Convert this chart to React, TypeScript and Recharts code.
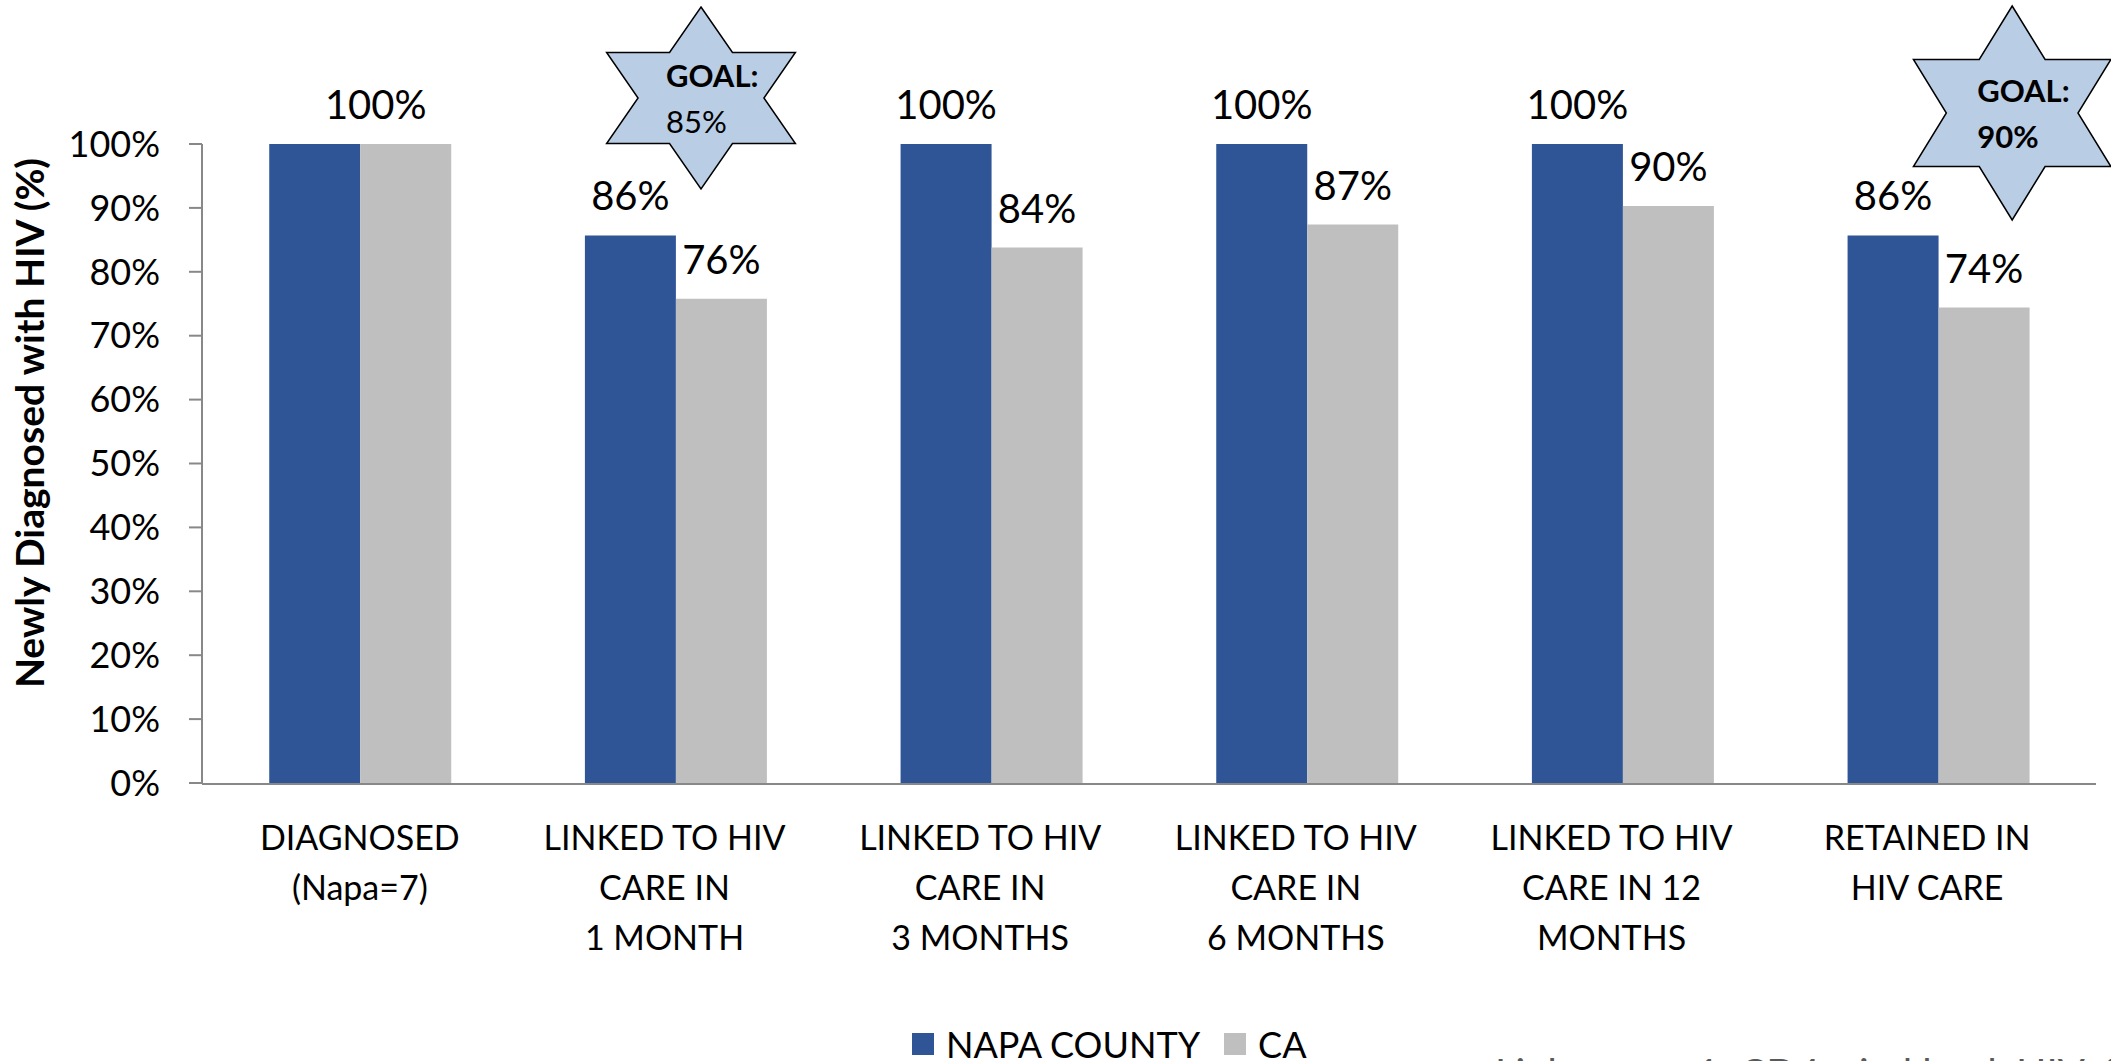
import React from 'react';
import { BarChart, Bar, XAxis, YAxis, Legend, LabelList, ReferenceDot, Customized } from 'recharts';

const categories = ['DIAGNOSED', 'LINKED_1M', 'LINKED_3M', 'LINKED_6M', 'LINKED_12M', 'RETAINED'];
const categoryLabels: string[][] = [
  ['DIAGNOSED', '(Napa=7)'],
  ['LINKED TO HIV', 'CARE IN', '1 MONTH'],
  ['LINKED TO HIV', 'CARE IN', '3 MONTHS'],
  ['LINKED TO HIV', 'CARE IN', '6 MONTHS'],
  ['LINKED TO HIV', 'CARE IN 12', 'MONTHS'],
  ['RETAINED IN', 'HIV CARE'],
];
const napaCounty = [100, 85.7, 100, 100, 100, 85.7];
const california = [100, 75.8, 83.8, 87.4, 90.3, 74.4];
const yTicks = [0, 10, 20, 30, 40, 50, 60, 70, 80, 90, 100];
const boundaryTicks = [0, 1, 2, 3, 4, 5, 6];
const seriesNames = ['NAPA COUNTY', 'CA'];
const goalCategories = ['LINKED_1M', 'RETAINED'];
const goalValues = [85, 90];
const goalBold = [false, true];

const data = categories.map((c, i) => ({ name: c, napa: napaCounty[i], ca: california[i] }));

const FONT = 'Lato, "Open Sans", sans-serif';
const BLUE = '#2F5597';
const GRAY = '#BFBFBF';
const AXIS = '#888888';

const CategoryTick = (props: any) => {
  const { x, y, payload } = props;
  const idx = categories.indexOf(payload.value);
  const lines = categoryLabels[idx] || [];
  const cx = idx > 0 ? x - 11 : x;
  return (
    <text x={cx} y={y} textAnchor="middle" fontFamily={FONT} fontSize={34} fill="#000">
      {lines.map((l, i) => (
        <tspan key={i} x={cx} y={y + 67 + i * 50}>{l}</tspan>
      ))}
    </text>
  );
};

const makeLabel = (series: 'napa' | 'ca') => (props: any) => {
  const { x, y, width, value, index } = props;
  if (series === 'napa' && index === 0) return null;
  let cx = Number(x) + Number(width) / 2;
  if (series === 'ca' && index === 0) cx -= 30;
  return (
    <text x={cx} y={Number(y) - 25} textAnchor="middle" fontFamily={FONT} fontSize={40} fill="#000">
      {Math.round(Number(value))}%
    </text>
  );
};

const starShape = (rx: number, ry: number, dx: number, label: number, bold: boolean) => (props: any) => {
  const cx = props.cx + dx;
  const cy = props.cy;
  const pts: string[] = [];
  for (let k = 0; k < 12; k++) {
    const th = (k * 30 * Math.PI) / 180;
    const f = k % 2 === 0 ? 1 : 1 / Math.sqrt(3);
    pts.push(`${cx + rx * f * Math.sin(th)},${cy - ry * f * Math.cos(th)}`);
  }
  return (
    <g>
      <polygon points={pts.join(' ')} fill="#B9CDE5" stroke="#000" strokeWidth={1.5} />
      <text x={cx - 35} y={cy - 11} fontFamily={FONT} fontSize={31} fontWeight="bold" fill="#000">GOAL:</text>
      <text x={cx - 35} y={cy + 35} fontFamily={FONT} fontSize={31} fontWeight={bold ? 'bold' : 'normal'} fill="#000">{label}%</text>
    </g>
  );
};

const LegendContent = () => (
  <div style={{ display: 'flex', alignItems: 'center', fontFamily: FONT, fontSize: 36, color: '#000', lineHeight: '40px', whiteSpace: 'nowrap' }}>
    <span style={{ display: 'inline-block', width: 22, height: 22, background: BLUE, marginRight: 12 }} />
    <span style={{ marginRight: 24 }}>{seriesNames[0]}</span>
    <span style={{ display: 'inline-block', width: 22, height: 22, background: GRAY, marginRight: 12 }} />
    <span>{seriesNames[1]}</span>
  </div>
);

const Extras = () => (
  <g>
    <text
      x={44}
      y={423}
      transform="rotate(-90 44 423)"
      textAnchor="middle"
      fontFamily={FONT}
      fontSize={39}
      fontWeight="bold"
      fill="#000"
    >
      Newly Diagnosed with HIV (%)
    </text>
    <text x={1495} y={1088} fontFamily={FONT} fontSize={40} fill="#595959">
      Linkage = ≥1: CD4, viral load, HIV-1 test
    </text>
  </g>
);

export default function App() {
  return (
    <div style={{ position: 'absolute', left: 0, top: 0, width: 2111, height: 1061, background: '#fff', overflow: 'hidden' }}>
      <BarChart
        width={2111}
        height={1061}
        data={data}
        margin={{ top: 144, right: 15, bottom: 276, left: 142 }}
        barCategoryGap="21.3%"
        barGap={0}
      >
        <XAxis
          dataKey="name"
          xAxisId="cat"
          height={1}
          axisLine={false}
          tickLine={false}
          tickSize={0}
          tickMargin={0}
          interval={0}
          tick={<CategoryTick />}
        />
        <XAxis
          xAxisId="grid"
          type="number"
          domain={[0, 6]}
          ticks={boundaryTicks}
          height={1}
          tick={false}
          tickSize={13}
          axisLine={{ stroke: AXIS, strokeWidth: 2 }}
          tickLine={{ stroke: AXIS, strokeWidth: 2 }}
        />
        <YAxis
          width={60}
          domain={[0, 100]}
          ticks={yTicks}
          allowDataOverflow
          tickFormatter={(v: number) => `${v}%`}
          tickSize={13}
          tickMargin={29}
          axisLine={{ stroke: AXIS, strokeWidth: 2 }}
          tickLine={{ stroke: AXIS, strokeWidth: 2 }}
          tick={{ fontFamily: FONT, fontSize: 36, fill: '#000' }}
        />
        <Bar dataKey="napa" name={seriesNames[0]} xAxisId="cat" fill={BLUE} isAnimationActive={false}>
          <LabelList dataKey="napa" content={makeLabel('napa')} />
        </Bar>
        <Bar dataKey="ca" name={seriesNames[1]} xAxisId="cat" fill={GRAY} isAnimationActive={false}>
          <LabelList dataKey="ca" content={makeLabel('ca')} />
        </Bar>
        <ReferenceDot
          xAxisId="cat"
          x={goalCategories[0]}
          y={107.2}
          ifOverflow="visible"
          shape={starShape(109, 91, 25.5, goalValues[0], goalBold[0])}
        />
        <ReferenceDot
          xAxisId="cat"
          x={goalCategories[1]}
          y={104.85}
          ifOverflow="visible"
          shape={starShape(114, 107, 74, goalValues[1], goalBold[1])}
        />
        <Legend
          layout="horizontal"
          verticalAlign="middle"
          align="center"
          content={<LegendContent />}
          wrapperStyle={{ top: 1024, left: 912, width: 'auto', height: 'auto' }}
        />
        <Customized component={<Extras />} />
      </BarChart>
    </div>
  );
}
